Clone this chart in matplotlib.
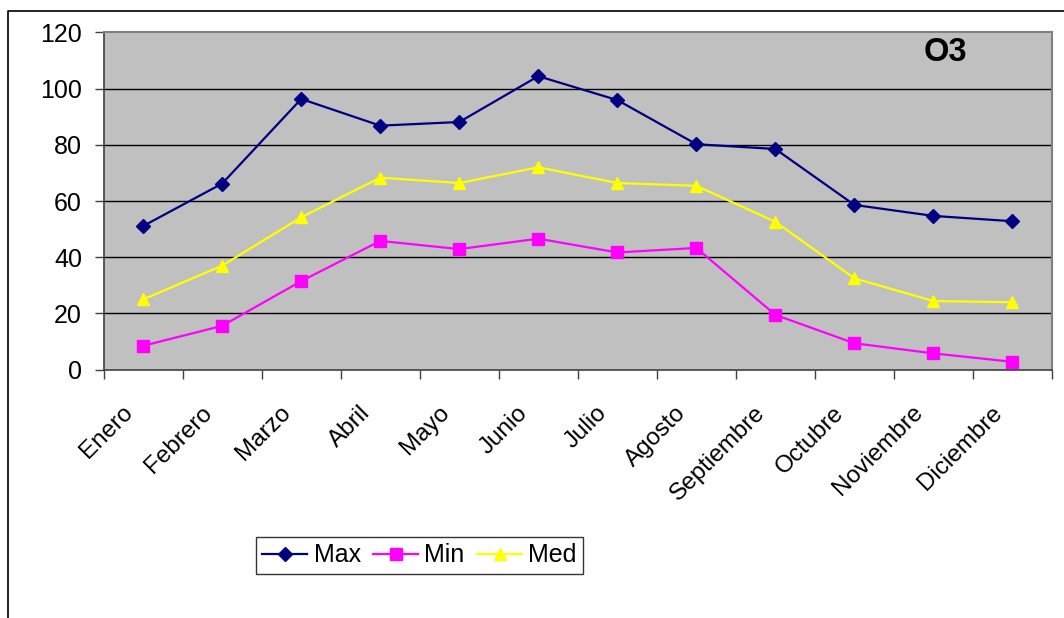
import numpy as np
import matplotlib.pyplot as plt
from matplotlib.lines import Line2D

months = ["Enero", "Febrero", "Marzo", "Abril", "Mayo", "Junio", "Julio",
          "Agosto", "Septiembre", "Octubre", "Noviembre", "Diciembre"]
o3_max = [51.1, 66.2, 96.3, 86.8, 88.1, 104.4, 95.9, 80.2, 78.5, 58.6, 54.7, 52.8]
o3_min = [8.5, 15.6, 31.5, 45.8, 42.9, 46.6, 41.7, 43.3, 19.5, 9.4, 5.8, 2.8]
o3_med = [25.0, 37.0, 54.2, 68.3, 66.4, 72.0, 66.4, 65.4, 52.6, 32.5, 24.4, 24.0]
y_ticks = [0, 20, 40, 60, 80, 100, 120]

plt.rcParams['font.family'] = ['Liberation Sans', 'DejaVu Sans']

fig = plt.figure(figsize=(10.64, 6.18), dpi=100)
ax = fig.add_axes([0.0974, 0.4018, 0.8913, 0.5459])
ax.set_facecolor('#C0C0C0')

x = np.arange(len(months))
ax.plot(x, o3_max, color='#000080', marker='D', markersize=7, lw=1.6, label='Max')
ax.plot(x, o3_min, color='#FF00FF', marker='s', markersize=8, lw=1.6, label='Min')
ax.plot(x, o3_med, color='#FFFF00', marker='^', markersize=9, lw=1.6, label='Med')

ax.set_xlim(-0.5, len(months) - 0.5)
ax.set_ylim(0, 120)
ax.set_yticks(y_ticks)
ax.tick_params(axis='y', labelsize=18, length=6.5, width=1, color='#404040', pad=9)
for yv in y_ticks[1:-1]:
    ax.axhline(yv, color='#000000', lw=1, zorder=0.5)

# category ticks sit between months; labels hang just left of each month centre
ax.set_xticks(np.arange(-0.5, len(months)), minor=False)
ax.set_xticklabels([])
ax.set_xticks(x - 0.27, minor=True)
ax.set_xticklabels(months, minor=True, rotation=45, ha='right', va='top',
                   rotation_mode='anchor', fontsize=17.5)
ax.tick_params(axis='x', which='major', length=6.5, width=1, color='#404040')
ax.tick_params(axis='x', which='minor', length=0, pad=23)

for side in ['top', 'right']:
    ax.spines[side].set_color('#808080')
    ax.spines[side].set_linewidth(1.5)
for side in ['left', 'bottom']:
    ax.spines[side].set_color('#404040')
    ax.spines[side].set_linewidth(1.2)

ax.text(0.888, 0.94, 'O3', transform=ax.transAxes, fontsize=23.5,
        fontweight='bold', ha='center', va='center')

fig.legend(loc='upper left', bbox_to_anchor=(256 / 1064, 1 - 537 / 618),
           ncol=3, frameon=True, fancybox=False, edgecolor='black',
           fontsize=18, handlelength=1.8, handletextpad=0.25,
           columnspacing=0.5, borderpad=0.25, borderaxespad=0)

# chart frame
fx = 8 / 1064
fy = 1 - 10.7 / 618
fig.add_artist(Line2D([fx, fx, 1.0], [0.0, fy, fy], color='black', lw=1.2,
                      transform=fig.transFigure))

fig.savefig('out.png', dpi=100)
